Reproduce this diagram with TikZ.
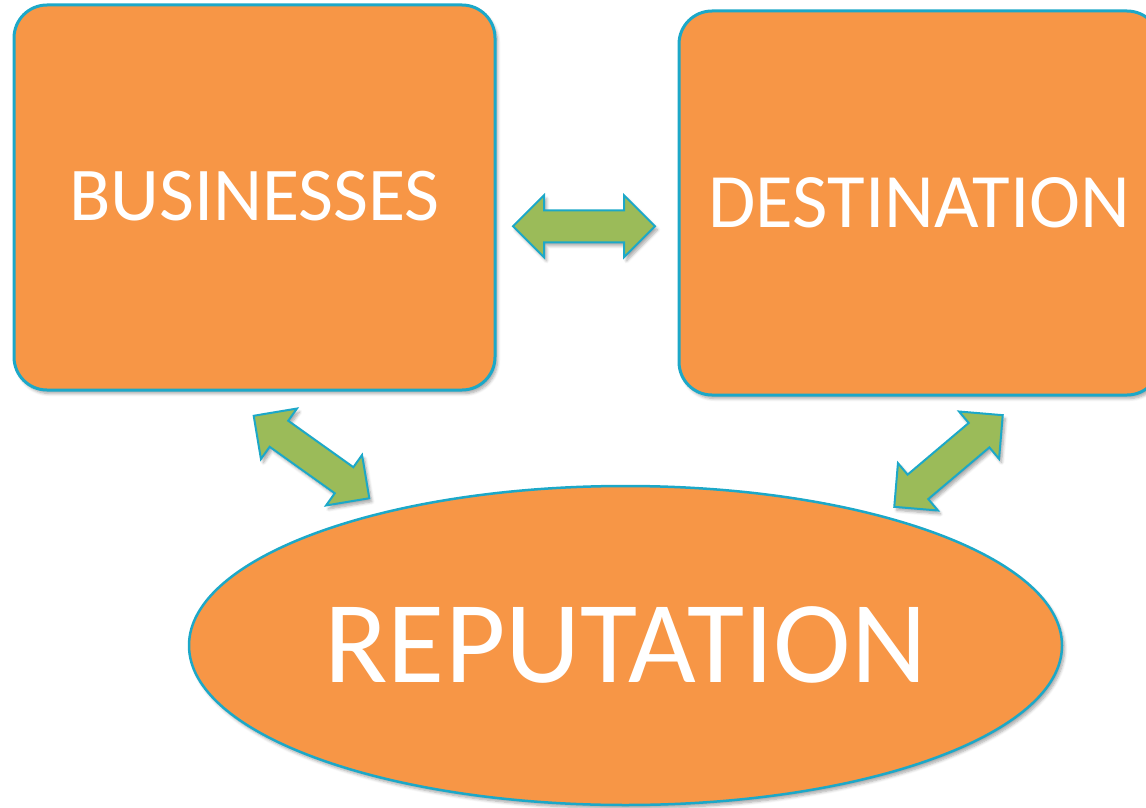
\documentclass[tikz,border=0pt]{standalone}
\usepackage{fontspec}
\setmainfont{Carlito}
\usetikzlibrary{calc,shapes.geometric,shapes.arrows,shadows.blur}

\definecolor{boxorange}{RGB}{247,150,70}
\definecolor{edgeblue}{RGB}{28,168,200}
\definecolor{linkgreen}{RGB}{155,187,89}

\tikzset{
  softshadow/.style={blur shadow={shadow xshift=2.5pt, shadow yshift=-3.5pt,
      shadow blur steps=6, shadow blur radius=3pt, shadow opacity=35}},
  panel/.style={draw=edgeblue, line width=3pt, fill=boxorange,
      rounded corners=33pt, inner sep=0pt, text=white, softshadow},
  oval/.style={ellipse, draw=edgeblue, line width=2.5pt, fill=boxorange,
      inner sep=0pt, text=white, softshadow},
  link/.style={double arrow, draw=edgeblue, line width=2pt, fill=linkgreen,
      inner xsep=0pt, inner ysep=15pt, double arrow head extend=15pt,
      minimum height=142pt, softshadow},
}

\begin{document}
\begin{tikzpicture}[x=1pt, y=-1pt]
  \clip (0,0) rectangle (1146,808);
  \useasboundingbox (0,0) rectangle (1146,808);

  % the two blocks
  \node[panel, minimum width=481pt, minimum height=385pt] (biz) at (254.5,197.5)
    {\raisebox{3pt}{\fontsize{76}{90}\selectfont BUSINESSES}};
  \node[panel, minimum width=481pt, minimum height=384pt] (dest) at (919.5,203)
    {\raisebox{1pt}{\fontsize{77}{92}\selectfont DESTINATION}};

  % the outcome
  \node[oval, minimum width=873pt, minimum height=319pt] (rep) at (625.5,645.5)
    {\raisebox{2pt}{\fontsize{117}{140}\selectfont REPUTATION}};

  % two-way links between them
  \node[link] (bizdest) at ($(biz.east)!0.5!(dest.west)+(-3,26)$) {};
  \node[link, rotate=-35.5] (bizrep) at (311.5,457) {};
  \node[link, rotate=40.2] (destrep) at (948.5,461) {};
\end{tikzpicture}
\end{document}
